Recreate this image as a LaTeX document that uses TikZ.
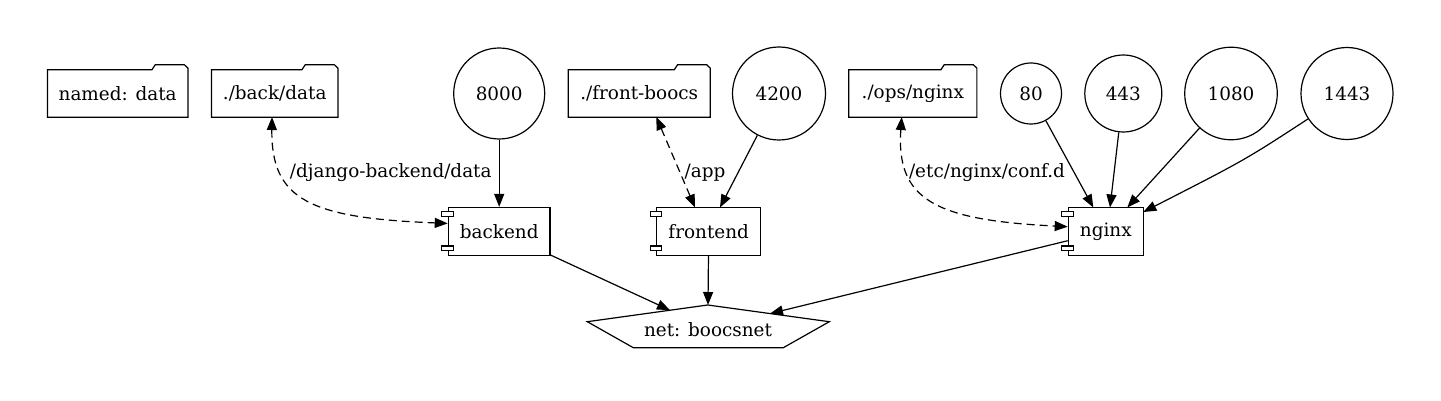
\documentclass[tikz,border=0pt]{standalone}
\usepackage{fontspec}
\setmainfont{DejaVu Serif}
\usetikzlibrary{arrows.meta,calc}
\newcommand\folderpath[1]{%
  \draw[ln] (#1.south west) -- (#1.north west) -- ($(#1.north east)+(-36,0)$) -- ++(3.3,-5)
    -- ($(#1.north east)+(-3.5,-5)$) -- ($(#1.north east)+(0,-1.7)$) -- (#1.south east) -- cycle;}
\newcommand\compports[1]{%
  \draw[ln,fill=white] ($(#1.north west)+(-6,4.4)$) rectangle ++(11.7,4.8);
  \draw[ln,fill=white] ($(#1.south west)+(-6,-10)$) rectangle ++(11.7,4.8);}
\begin{document}
\begin{tikzpicture}[x=1pt,y=-1pt,
  every node/.style={font=\fontsize{18.4}{22}\selectfont, inner sep=0pt},
  ln/.style={line width=1.2pt},
  folder/.style={minimum height=47pt},
  comp/.style={draw, ln, minimum height=47.8pt},
  portc/.style={draw, ln, circle, minimum size=#1},
  arr/.style={ln, -{Triangle[length=13pt,width=10pt]}},
  darr/.style={ln, dash pattern=on 8pt off 5pt, {Triangle[length=13pt,width=10pt]}-{Triangle[length=13pt,width=10pt]}}]
\useasboundingbox (0,0) rectangle (1441,401);
% folders
\node[folder, minimum width=140pt] (fnamed) at (117.7,93.5) {named: data};
\node[folder, minimum width=126pt] (fback) at (274.7,93.5) {./back/data};
\node[folder, minimum width=141.7pt] (ffront) at (639.2,93.5) {./front-boocs};
\node[folder, minimum width=127.7pt] (fops) at (912.8,93.5) {./ops/nginx};
\foreach \n in {fnamed,fback,ffront,fops} {\folderpath{\n}}
% ports
\node[portc=91pt] (p8000) at (499.2,93.5) {8000};
\node[portc=93pt] (p4200) at (779,93.5) {4200};
\node[portc=61pt] (p80) at (1031,93.5) {80};
\node[portc=77pt] (p443) at (1123.3,93.5) {443};
\node[portc=92.6pt] (p1080) at (1231,93.5) {1080};
\node[portc=92pt] (p1443) at (1347,93.5) {1443};
% components
\node[comp, minimum width=101.7pt] (backend) at (499.2,231.4) {backend};
\node[comp, minimum width=104pt] (frontend) at (708.7,231.4) {frontend};
\node[comp, minimum width=75pt] (nginx) at (1105.8,231.4) {nginx};
\foreach \n in {backend,frontend,nginx} {\compports{\n}}
% network
\node (net) at (708,330) {net: boocsnet};
\draw[ln] (587.3,321.7) -- (707.7,305) -- (829.3,321.7) -- (783.3,347.7) -- (633.3,347.7) -- cycle;
\coordinate (netL) at (670,310.2);
\coordinate (netT) at (708,305);
\coordinate (netR) at (770,313.6);
% anchor points
\coordinate (fbB) at (272,117);
\coordinate (bkL) at ($(backend.west)+(0,-8)$);
\coordinate (ffB) at (656.3,117);
\coordinate (feT) at (695,207.5);
\coordinate (feT2) at (720,207.5);
\coordinate (foB) at (901.7,117);
\coordinate (ngL) at ($(nginx.west)+(0,-4.7)$);
\coordinate (ng1) at (1093.3,207.5);
\coordinate (ng2) at (1110,207.5);
\coordinate (ng3) at (1127.3,207.5);
\coordinate (ng4) at (1143.3,212);
\coordinate (c1443) at (1245,160);
% volume edges
\draw[darr] (fbB) .. controls (271,200) and (310,218) .. (bkL);
\node (l1) at (390.8,173) {/django-backend/data};
\draw[darr] (ffB) -- (feT);
\node (l2) at (705,173) {/app};
\draw[darr] (foB) .. controls (896,200) and (935,220) .. (ngL);
\node (l3) at (987,173) {/etc/nginx/conf.d};
% port edges
\draw[arr] (p8000) -- (backend);
\draw[arr] (p4200) -- (feT2);
\draw[arr] (p80) -- (ng1);
\draw[arr] (p443) -- (ng2);
\draw[arr] (p1080) -- (ng3);
\draw[arr] (p1443) .. controls (c1443) .. (ng4);
% network edges
\draw[arr] (backend) -- (netL);
\draw[arr] (frontend) -- (netT);
\draw[arr] (nginx) -- (netR);
\end{tikzpicture}
\end{document}
